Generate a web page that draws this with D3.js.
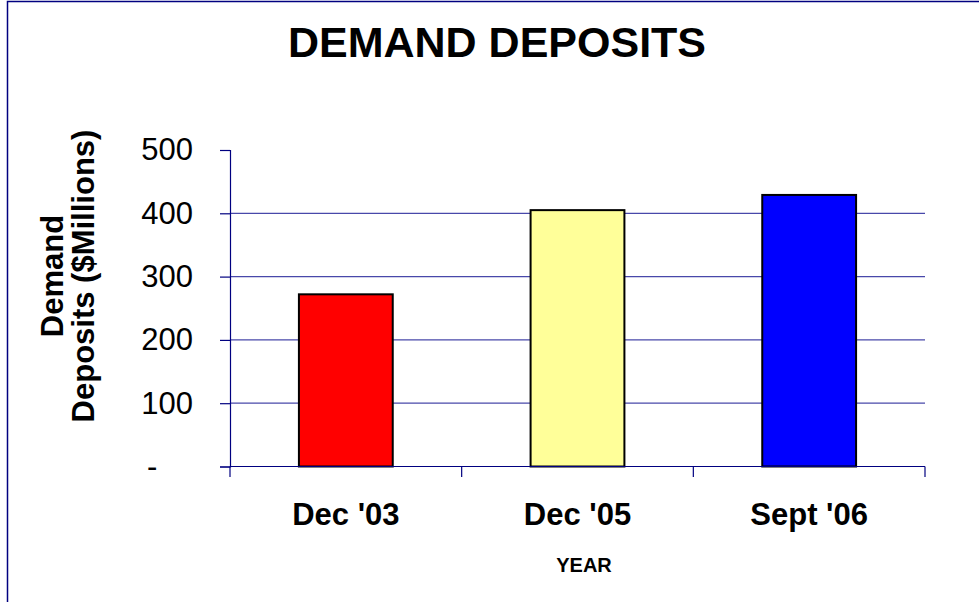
<!DOCTYPE html>
<html>
<head>
<meta charset="utf-8">
<script src="https://cdn.jsdelivr.net/npm/d3@7"></script>
<style>
  html, body { margin: 0; padding: 0; background: #fff; }
  svg { display: block; font-family: Arial, "Liberation Sans", sans-serif; }
</style>
</head>
<body>
<svg id="chart" width="979" height="602"></svg>
<script>
const categories = ["Dec '03", "Dec '05", "Sept '06"];
const values = [272, 405, 429];
const barColors = ["#FF0000", "#FFFF99", "#0000FF"];
const yTicks = [0, 100, 200, 300, 400, 500];
const yTickLabels = ["-", "100", "200", "300", "400", "500"];
const title = "DEMAND DEPOSITS";
const yTitleLines = ["Demand", "Deposits ($Millions)"];
const xTitle = "YEAR";

const svg = d3.select("#chart");
const W = 979, H = 602;
const plot = { left: 230, right: 925, top: 150, bottom: 466.5 };
const navy = "#000080";

svg.append("rect").attr("width", W).attr("height", H).attr("fill", "#fff");
// outer frame (extends past right and bottom edges)
svg.append("rect")
  .attr("x", 7.5).attr("y", 1.5).attr("width", W + 20).attr("height", H + 20)
  .attr("fill", "none").attr("stroke", navy).attr("stroke-width", 1.5);

const x = d3.scaleBand().domain(categories).range([plot.left, plot.right]).padding(0);
const y = d3.scaleLinear().domain([0, 500]).range([plot.bottom, plot.top]);

// gridlines
svg.append("g").selectAll("line")
  .data(yTicks.filter(d => d > 0 && d < 500))
  .join("line")
  .attr("x1", plot.left).attr("x2", plot.right)
  .attr("y1", d => y(d)).attr("y2", d => y(d))
  .attr("stroke", "#4848aa").attr("stroke-width", 1.2);

// bars
const barW = x.bandwidth() * 0.405;
svg.append("g").selectAll("rect")
  .data(values)
  .join("rect")
  .attr("x", (d, i) => x(categories[i]) + x.bandwidth() / 2 - barW / 2)
  .attr("y", d => y(d))
  .attr("width", barW)
  .attr("height", d => y(0) - y(d))
  .attr("fill", (d, i) => barColors[i])
  .attr("stroke", "#000").attr("stroke-width", 2);

// y axis
const yAxis = d3.axisLeft(y).tickValues(yTicks).tickSize(10).tickPadding(27)
  .tickFormat((d, i) => yTickLabels[i]);
const gy = svg.append("g").attr("transform", `translate(${plot.left},0)`).call(yAxis);
gy.select(".domain").attr("stroke", navy).attr("stroke-width", 1.2);
gy.selectAll(".tick line").attr("stroke", navy).attr("stroke-width", 1.2);
gy.selectAll(".tick text")
  .attr("font-size", 31).attr("fill", "#000")
  .attr("font-family", "Arial, 'Liberation Sans', sans-serif")
  .attr("dx", d => d === 0 ? "-1.15em" : 0);

// x axis: ticks at category boundaries
const xAxisG = svg.append("g");
xAxisG.append("line")
  .attr("x1", plot.left).attr("x2", plot.right)
  .attr("y1", y(0)).attr("y2", y(0))
  .attr("stroke", navy).attr("stroke-width", 1.2);
const bounds = categories.map(c => x(c)).concat([x(categories[categories.length - 1]) + x.bandwidth()]);
xAxisG.selectAll("line.tk").data(bounds).join("line").attr("class", "tk")
  .attr("x1", d => d).attr("x2", d => d)
  .attr("y1", y(0)).attr("y2", y(0) + 10.5)
  .attr("stroke", navy).attr("stroke-width", 1.2);
xAxisG.selectAll("text").data(categories).join("text")
  .attr("x", d => x(d) + x.bandwidth() / 2)
  .attr("y", 525)
  .attr("text-anchor", "middle")
  .attr("font-size", 31).attr("font-weight", "bold")
  .text(d => d);

// titles
svg.append("text")
  .attr("x", 497).attr("y", 57)
  .attr("text-anchor", "middle")
  .attr("font-size", 43).attr("font-weight", "bold")
  .text(title);

svg.append("text")
  .attr("x", 584).attr("y", 572)
  .attr("text-anchor", "middle")
  .attr("font-size", 20).attr("font-weight", "bold")
  .text(xTitle);

const yt = svg.append("text")
  .attr("transform", "translate(63,276) rotate(-90)")
  .attr("text-anchor", "middle")
  .attr("font-size", 31).attr("font-weight", "bold");
yt.selectAll("tspan").data(yTitleLines).join("tspan")
  .attr("x", 0).attr("dy", (d, i) => i === 0 ? 0 : 31)
  .text(d => d);
</script>
</body>
</html>
